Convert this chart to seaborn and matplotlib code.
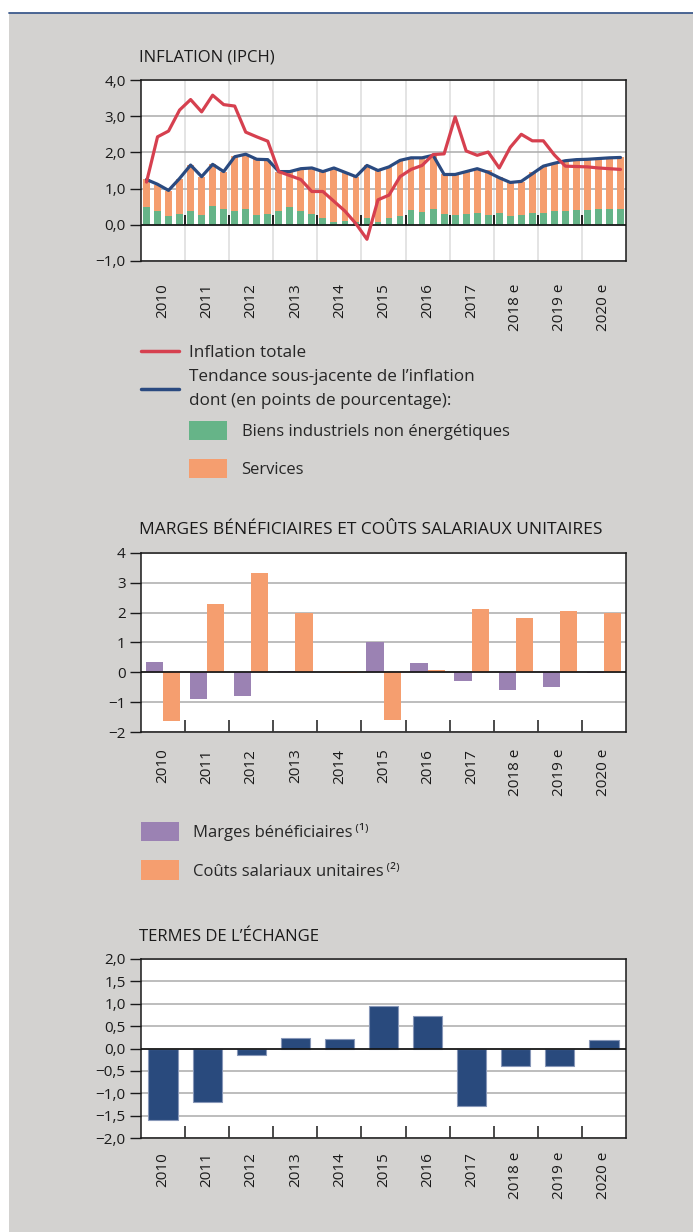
import numpy as np
import pandas as pd
import matplotlib.pyplot as plt
import seaborn as sns
from matplotlib.patches import Rectangle, Patch
from matplotlib.lines import Line2D

# années (colonnes des trois graphiques)
annees = ["2010", "2011", "2012", "2013", "2014", "2015", "2016", "2017",
          "2018 e", "2019 e", "2020 e"]

# IPCH trimestriel 2010T1 -> 2020T4 (en %)
inflation_totale = [1.18, 2.43, 2.59, 3.17, 3.46, 3.12, 3.58, 3.32, 3.28, 2.56, 2.43, 2.31,
                    1.47, 1.36, 1.25, 0.92, 0.92, 0.65, 0.38, 0.03, -0.40, 0.69, 0.82, 1.33,
                    1.53, 1.64, 1.94, 1.96, 2.98, 2.04, 1.92, 2.01, 1.57, 2.14, 2.50, 2.32,
                    2.32, 1.93, 1.62, 1.61, 1.60, 1.57, 1.55, 1.53]
tendance = [1.25, 1.12, 0.95, 1.28, 1.65, 1.33, 1.67, 1.47, 1.88, 1.95, 1.81, 1.80,
            1.47, 1.47, 1.55, 1.57, 1.47, 1.57, 1.45, 1.33, 1.64, 1.50, 1.60, 1.78,
            1.85, 1.85, 1.92, 1.39, 1.39, 1.47, 1.55, 1.45, 1.30, 1.17, 1.20, 1.41,
            1.62, 1.70, 1.77, 1.80, 1.81, 1.83, 1.85, 1.86]
# contributions (points de pourcentage)
biens_industriels = [0.48, 0.37, 0.23, 0.31, 0.39, 0.28, 0.53, 0.45, 0.39, 0.45, 0.28, 0.30,
                     0.39, 0.48, 0.39, 0.30, 0.18, 0.08, 0.11, 0.08, 0.20, 0.08, 0.20, 0.23,
                     0.42, 0.36, 0.45, 0.30, 0.28, 0.31, 0.33, 0.28, 0.33, 0.25, 0.28, 0.33,
                     0.33, 0.39, 0.39, 0.42, 0.42, 0.45, 0.45, 0.45]
services = [0.78, 0.72, 0.70, 0.95, 1.27, 1.05, 1.15, 1.02, 1.50, 1.51, 1.53, 1.48,
            1.08, 0.97, 1.14, 1.26, 1.27, 1.48, 1.36, 1.25, 1.44, 1.42, 1.39, 1.55,
            1.40, 1.48, 1.47, 1.09, 1.11, 1.14, 1.20, 1.22, 1.00, 0.95, 0.91, 1.12,
            1.29, 1.31, 1.37, 1.36, 1.38, 1.37, 1.39, 1.42]
infl_yticks = [-1, 0, 1, 2, 3, 4]
infl_ylabels = ["\u22121,0", "0,0", "1,0", "2,0", "3,0", "4,0"]

# marges et coûts salariaux unitaires (annuel)
marges = [0.34, -0.88, -0.81, 0.04, 0.00, 1.01, 0.31, -0.29, -0.59, -0.48, -0.02]
couts_salariaux = [-1.64, 2.28, 3.34, 1.98, -0.03, -1.59, 0.08, 2.11, 1.81, 2.04, 1.98]
marges_yticks = [-2, -1, 0, 1, 2, 3, 4]
marges_ylabels = ["\u22122", "\u22121", "0", "1", "2", "3", "4"]

# termes de l'échange
termes = [-1.60, -1.20, -0.14, 0.24, 0.21, 0.94, 0.72, -1.29, -0.40, -0.40, 0.20]
termes_yticks = [-2.0, -1.5, -1.0, -0.5, 0.0, 0.5, 1.0, 1.5, 2.0]
termes_ylabels = ["\u22122,0", "\u22121,5", "\u22121,0", "\u22120,5", "0,0",
                  "0,5", "1,0", "1,5", "2,0"]

# couleurs
GRIS_FOND = "#d3d2d0"
ROUGE = "#d6404f"
BLEU = "#2a4a80"
ORANGE = "#f59e6f"
VERT = "#66b488"
VIOLET = "#9b82b3"
BLEU_BARRE = "#294a7d"

sns.set_style("white")
plt.rcParams['font.family'] = ['Open Sans', 'DejaVu Sans']
plt.rcParams['axes.unicode_minus'] = False

W, H = 693, 1232
fig = plt.figure(figsize=(W / 100, H / 100), dpi=100)
fig.patch.set_facecolor("white")
# fond gris et filet bleu en haut
fig.add_artist(Rectangle((9 / W, 0), 1, 1 - 13 / H, transform=fig.transFigure,
                         facecolor=GRIS_FOND, edgecolor="none", zorder=-10))
fig.add_artist(Line2D([9 / W, 1], [1 - 12.5 / H] * 2, transform=fig.transFigure,
                      color="#3d5a8c", lw=1.3, zorder=-5))


def cadre(top, bottom):
    return fig.add_axes([141 / W, 1 - bottom / H, 485 / W, (bottom - top) / H])


def habiller(ax, per, yticks, ylabels, lab_pad, ticks_in):
    n = len(annees)
    centres = np.arange(n) * per + (per - 1) / 2
    limites = np.arange(1, n) * per - 0.5
    ax.set_xlim(-0.5, n * per - 0.5)
    ax.set_ylim(yticks[0], yticks[-1])
    ax.set_yticks(yticks)
    ax.set_yticklabels(ylabels)
    ax.set_xticks(centres)
    ax.set_xticklabels(annees, rotation=90, va="top", ha="center")
    ax.set_xticks(limites, minor=True)
    ax.set_xlabel("")
    ax.set_ylabel("")
    ax.set_facecolor("white")
    ax.yaxis.grid(True, color="#ababab", lw=1.1)
    ax.set_axisbelow(True)
    for s in ax.spines.values():
        s.set_visible(True)
        s.set_color("#1a1a1a")
        s.set_linewidth(1.1)
    ax.tick_params(axis="y", direction="out", length=8, width=1.0, pad=3,
                   labelsize=11, color="#1a1a1a", labelcolor="#1a1a1a", left=True)
    ax.tick_params(axis="x", which="major", length=0, pad=lab_pad,
                   labelsize=11, labelcolor="#1a1a1a")
    if ticks_in:
        ax.tick_params(axis="x", which="minor", direction="in", length=8.5,
                       width=1.1, color="#1a1a1a", bottom=True)
    else:
        ax.tick_params(axis="x", which="minor", length=0)
    ax.axhline(0, color="#111111", lw=1.2, zorder=4)
    return limites


# ---- INFLATION (IPCH)
ax1 = cadre(80, 261)
q = np.arange(len(tendance))
total = np.add(biens_industriels, services)
sns.barplot(x=q, y=total, native_scale=True, color=ORANGE, saturation=1,
            width=0.62, ax=ax1, errorbar=None, zorder=2, linewidth=0, edgecolor="none")
sns.barplot(x=q, y=biens_industriels, native_scale=True, color=VERT, saturation=1,
            width=0.62, ax=ax1, errorbar=None, zorder=2, linewidth=0, edgecolor="none")
sns.lineplot(x=q, y=tendance, color=BLEU, lw=2.3, ax=ax1, zorder=5)
sns.lineplot(x=q, y=inflation_totale, color=ROUGE, lw=2.3, ax=ax1, zorder=6)
lim1 = habiller(ax1, 4, infl_yticks, infl_ylabels, 16, False)
ax1.xaxis.grid(True, which="minor", color="#dddddd", lw=1.1)
ax1.vlines(lim1, 0, 0.28, color="#111111", lw=1.3, zorder=4)
fig.text(139 / W, 1 - 57 / H, "INFLATION (IPCH)", fontsize=12, va="center",
         color="#1a1a1a")

leg = fig.legend(handles=[Line2D([], [], color=ROUGE, lw=2.5),
                          Line2D([], [], color=BLEU, lw=2.5)],
                 labels=["Inflation totale",
                         "Tendance sous-jacente de l\u2019inflation\ndont (en points de pourcentage):"],
                 loc="upper left", bbox_to_anchor=(141 / W, 1 - 345 / H), frameon=False,
                 fontsize=12.3, handlelength=2.2, handletextpad=0.6, labelspacing=0.45,
                 borderpad=0, borderaxespad=0)
for t in leg.get_texts():
    t.set_linespacing(1.7)
fig.legend(handles=[Patch(facecolor=VERT, edgecolor="none"),
                    Patch(facecolor=ORANGE, edgecolor="none")],
           labels=["Biens industriels non \u00e9nerg\u00e9tiques", "Services"],
           loc="upper left", bbox_to_anchor=(189 / W, 1 - 421 / H), frameon=False,
           fontsize=12, handlelength=2.25, handleheight=1.4, handletextpad=0.9,
           labelspacing=1.1, borderpad=0, borderaxespad=0)

# ---- MARGES BÉNÉFICIAIRES ET COÛTS SALARIAUX UNITAIRES
ax2 = cadre(553, 732)
df2 = pd.DataFrame({
    "annee": annees * 2,
    "valeur": marges + couts_salariaux,
    "serie": ["marges"] * len(annees) + ["couts"] * len(annees),
})
sns.barplot(data=df2, x="annee", y="valeur", hue="serie", order=annees,
            palette=[VIOLET, ORANGE], saturation=1, width=0.78, errorbar=None,
            legend=False, ax=ax2, zorder=2, linewidth=0, edgecolor="none")
habiller(ax2, 1, marges_yticks, marges_ylabels, 12, True)
fig.text(139 / W, 1 - 530 / H, "MARGES B\u00c9N\u00c9FICIAIRES ET CO\u00dbTS SALARIAUX UNITAIRES",
         fontsize=12.5, va="center", color="#1a1a1a")
fig.legend(handles=[Patch(facecolor=VIOLET, edgecolor="none"),
                    Patch(facecolor=ORANGE, edgecolor="none")],
           labels=["Marges b\u00e9n\u00e9ficiaires\u2009\u207d\u00b9\u207e",
                   "Co\u00fbts salariaux unitaires\u2009\u207d\u00b2\u207e"],
           loc="upper left", bbox_to_anchor=(141 / W, 1 - 822 / H), frameon=False,
           fontsize=12, handlelength=2.25, handleheight=1.4, handletextpad=0.85,
           labelspacing=1.15, borderpad=0, borderaxespad=0)

# ---- TERMES DE L'ÉCHANGE
ax3 = cadre(959, 1138)
sns.barplot(x=annees, y=termes, order=annees, color=BLEU_BARRE, saturation=1,
            width=0.66, edgecolor="#8797b8", linewidth=0.8, errorbar=None,
            ax=ax3, zorder=2)
habiller(ax3, 1, termes_yticks, termes_ylabels, 10, True)
fig.text(139 / W, 1 - 937 / H, "TERMES DE L\u2019\u00c9CHANGE", fontsize=12,
         va="center", color="#1a1a1a")

fig.savefig("out.png", dpi=100)
